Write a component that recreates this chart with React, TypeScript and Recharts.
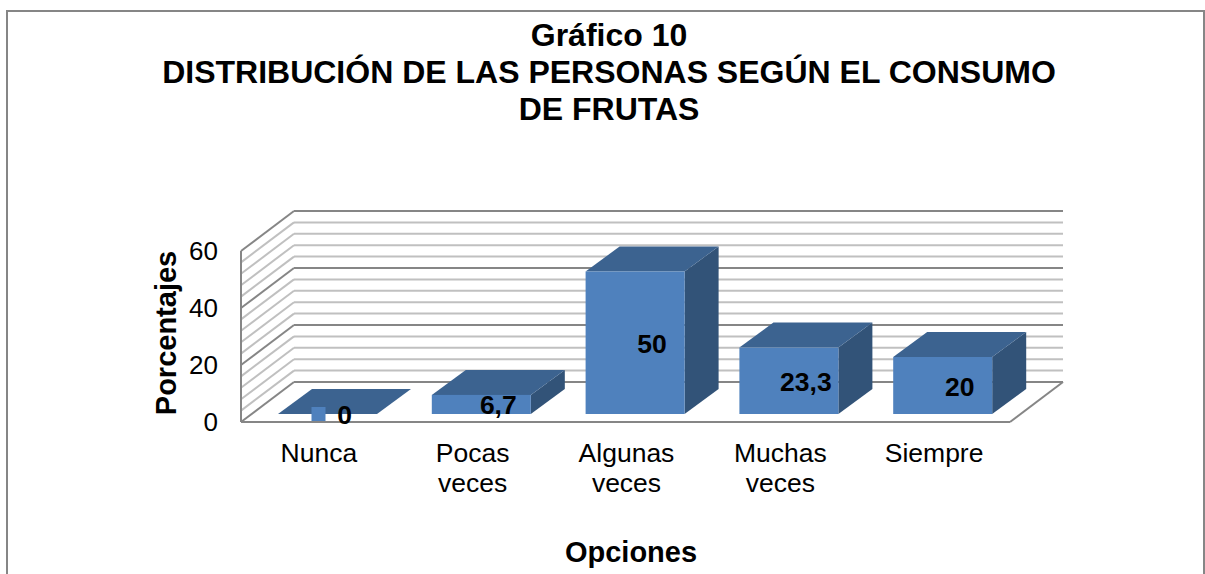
import React from 'react';
import { BarChart, Bar, XAxis, YAxis, CartesianGrid, LabelList } from 'recharts';

const categories = ['Nunca', 'Pocas veces', 'Algunas veces', 'Muchas veces', 'Siempre'];
const porcentajes = [0, 6.7, 50, 23.3, 20];
const yTicks = [0, 20, 40, 60];
const gridValues = [0, 4, 8, 12, 16, 20, 24, 28, 32, 36, 40, 44, 48, 52, 56, 60];
const titleLines = ['Gráfico 10', 'DISTRIBUCIÓN DE LAS PERSONAS SEGÚN EL CONSUMO', 'DE FRUTAS'];

const data = categories.map((name, i) => ({ name, value: porcentajes[i] }));

const FONT = '"Liberation Sans", Arial, sans-serif';
const AXIS_GREY = '#868686';
const MINOR_GREY = '#c0c0c0';
const FRONT = '#4f81bd';
const TOP = '#3c6390';
const SIDE = '#325378';

// fake 3D: how far the back wall sits from the front of the floor
const WALL_DX = 53;
const WALL_DY = -40;
// bars stand in the middle of the floor
const BAR_DX = 10;
const BAR_DY = -8;
const DEPTH_DX = 34;
const DEPTH_DY = -25;

const GridLine = (props: any) => {
  const { x1, x2, y1, index } = props;
  const major = index % 5 === 0;
  const stroke = major ? AXIS_GREY : MINOR_GREY;
  const isFloor = index === 0;
  return (
    <g key={`grid-${index}`}>
      <line x1={x1 + WALL_DX} x2={x2 + WALL_DX} y1={y1 + WALL_DY} y2={y1 + WALL_DY} stroke={stroke} strokeWidth={2} />
      <line x1={x1} x2={x1 + WALL_DX} y1={y1} y2={y1 + WALL_DY} stroke={stroke} strokeWidth={2} />
      {isFloor && (
        <line x1={x2} x2={x2 + WALL_DX} y1={y1} y2={y1 + WALL_DY} stroke={AXIS_GREY} strokeWidth={2} />
      )}
    </g>
  );
};

const Box3D = (props: any) => {
  const { x, y, width, height } = props;
  const left = x + BAR_DX;
  const right = left + width;
  const top = y + BAR_DY;
  const bottom = top + height;
  const topFace = [
    [left, top],
    [right, top],
    [right + DEPTH_DX, top + DEPTH_DY],
    [left + DEPTH_DX, top + DEPTH_DY],
  ];
  const sideFace = [
    [right, top],
    [right + DEPTH_DX, top + DEPTH_DY],
    [right + DEPTH_DX, bottom + DEPTH_DY],
    [right, bottom],
  ];
  return (
    <g>
      <polygon points={sideFace.map((p) => p.join(',')).join(' ')} fill={SIDE} />
      <polygon points={topFace.map((p) => p.join(',')).join(' ')} fill={TOP} />
      <rect x={left} y={top} width={width} height={height} fill={FRONT} />
    </g>
  );
};

const BarValue = (props: any) => {
  const { x, y, width, height, value } = props;
  const cx = x + BAR_DX + width / 2 + 17;
  const cy = y + BAR_DY + height / 2 + 1;
  return (
    <g>
      {value === 0 && <rect x={cx - 33} y={cy - 8} width={14} height={14} fill={FRONT} />}
      <text x={cx} y={cy} textAnchor="middle" dominantBaseline="central" fontFamily={FONT} fontSize={26.5} fontWeight="bold" fill="#000">
        {String(value).replace('.', ',')}
      </text>
    </g>
  );
};

const CategoryTick = (props: any) => {
  const { x, y, payload } = props;
  return (
    <text x={x + 1} y={y + 2} textAnchor="middle" fontFamily={FONT} fontSize={26.5} fill="#000">
      {String(payload.value)
        .split(' ')
        .map((word, i) => (
          <tspan key={word} x={x + 1} dy={i === 0 ? 0 : 30}>
            {word}
          </tspan>
        ))}
    </text>
  );
};

export default function App() {
  return (
    <div style={{ position: 'absolute', left: 0, top: 0, width: 1205, height: 574 }}>
      <BarChart
        width={1205}
        height={574}
        data={data}
        margin={{ top: 251, right: 195, bottom: 92, left: 201 }}
      >
        <rect x={7} y={11} width={1197} height={620} fill="none" stroke={AXIS_GREY} strokeWidth={2} />
        <CartesianGrid vertical={false} horizontal={GridLine} horizontalValues={gridValues} />
        <XAxis
          dataKey="name"
          height={60}
          interval={0}
          tick={CategoryTick}
          tickLine={false}
          tickMargin={32}
          axisLine={{ stroke: AXIS_GREY, strokeWidth: 2 }}
        />
        <YAxis
          width={40}
          domain={[0, 60]}
          ticks={yTicks}
          interval={0}
          tick={{ fontFamily: FONT, fontSize: 26, fill: '#000' }}
          tickLine={false}
          tickMargin={17}
          axisLine={{ stroke: AXIS_GREY, strokeWidth: 2 }}
        />
        <Bar dataKey="value" barSize={99} shape={Box3D} isAnimationActive={false}>
          <LabelList dataKey="value" content={BarValue} />
        </Bar>
        <text x={609} fontFamily={FONT} fontSize={32} fontWeight="bold" textAnchor="middle" fill="#000">
          {titleLines.map((line, i) => (
            <tspan key={line} x={609} y={46 + i * 37}>
              {line}
            </tspan>
          ))}
        </text>
        <text
          transform="translate(176,333) rotate(-90)"
          fontFamily={FONT}
          fontSize={29}
          fontWeight="bold"
          textAnchor="middle"
          fill="#000"
        >
          Porcentajes
        </text>
        <text x={631} y={562} fontFamily={FONT} fontSize={29} fontWeight="bold" textAnchor="middle" fill="#000">
          Opciones
        </text>
      </BarChart>
    </div>
  );
}
